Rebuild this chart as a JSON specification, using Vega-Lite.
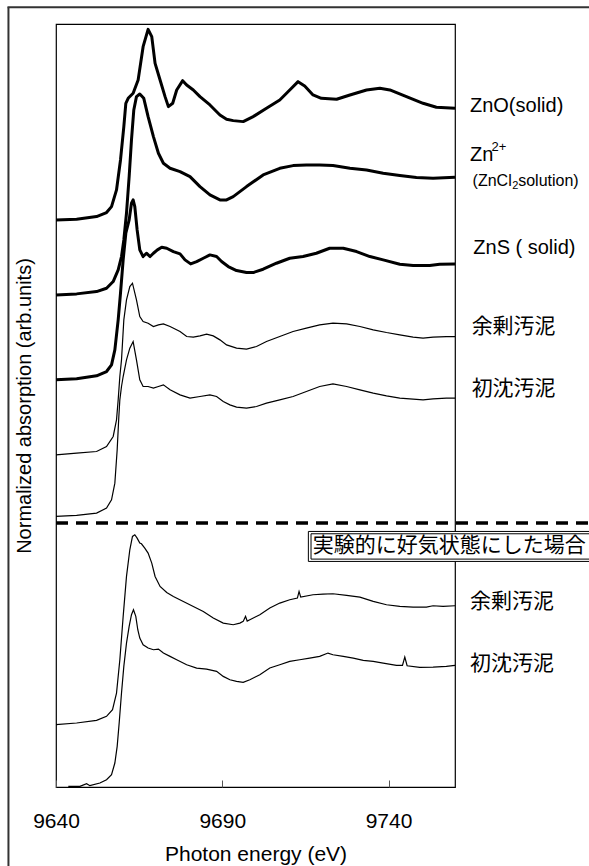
{
  "$schema": "https://vega.github.io/schema/vega-lite/v6.json",
  "width": 399,
  "height": 763,
  "autosize": "none",
  "padding": {"left": 56, "top": 24, "right": 134, "bottom": 79},
  "background": "white",
  "config": {
    "font": "Liberation Sans",
    "view": {"stroke": "black", "strokeWidth": 1.2},
    "axis": {"grid": false, "domain": false}
  },
  "datasets": {
    "spectra": [
      {"sample": "ZnO", "energy": 9640.0, "absorption": 17.02},
      {"sample": "ZnO", "energy": 9646.2, "absorption": 17.04},
      {"sample": "ZnO", "energy": 9652.2, "absorption": 17.12},
      {"sample": "ZnO", "energy": 9655.2, "absorption": 17.24},
      {"sample": "ZnO", "energy": 9656.7, "absorption": 17.42},
      {"sample": "ZnO", "energy": 9658.2, "absorption": 17.92},
      {"sample": "ZnO", "energy": 9659.4, "absorption": 18.82},
      {"sample": "ZnO", "energy": 9660.4, "absorption": 19.82},
      {"sample": "ZnO", "energy": 9661.0, "absorption": 20.52},
      {"sample": "ZnO", "energy": 9661.7, "absorption": 20.67},
      {"sample": "ZnO", "energy": 9663.2, "absorption": 20.82},
      {"sample": "ZnO", "energy": 9664.7, "absorption": 21.22},
      {"sample": "ZnO", "energy": 9666.2, "absorption": 22.22},
      {"sample": "ZnO", "energy": 9667.7, "absorption": 22.74},
      {"sample": "ZnO", "energy": 9668.8, "absorption": 22.52},
      {"sample": "ZnO", "energy": 9669.8, "absorption": 21.72},
      {"sample": "ZnO", "energy": 9671.3, "absorption": 21.22},
      {"sample": "ZnO", "energy": 9672.8, "absorption": 20.72},
      {"sample": "ZnO", "energy": 9673.8, "absorption": 20.42},
      {"sample": "ZnO", "energy": 9675.1, "absorption": 20.52},
      {"sample": "ZnO", "energy": 9676.3, "absorption": 20.92},
      {"sample": "ZnO", "energy": 9678.1, "absorption": 21.20},
      {"sample": "ZnO", "energy": 9679.3, "absorption": 21.07},
      {"sample": "ZnO", "energy": 9681.3, "absorption": 20.92},
      {"sample": "ZnO", "energy": 9683.3, "absorption": 20.72},
      {"sample": "ZnO", "energy": 9686.3, "absorption": 20.47},
      {"sample": "ZnO", "energy": 9689.3, "absorption": 20.17},
      {"sample": "ZnO", "energy": 9691.3, "absorption": 20.04},
      {"sample": "ZnO", "energy": 9693.3, "absorption": 20.00},
      {"sample": "ZnO", "energy": 9696.3, "absorption": 19.97},
      {"sample": "ZnO", "energy": 9699.3, "absorption": 20.12},
      {"sample": "ZnO", "energy": 9703.3, "absorption": 20.37},
      {"sample": "ZnO", "energy": 9707.3, "absorption": 20.62},
      {"sample": "ZnO", "energy": 9710.3, "absorption": 20.92},
      {"sample": "ZnO", "energy": 9712.8, "absorption": 21.17},
      {"sample": "ZnO", "energy": 9714.8, "absorption": 21.04},
      {"sample": "ZnO", "energy": 9717.3, "absorption": 20.77},
      {"sample": "ZnO", "energy": 9719.8, "absorption": 20.67},
      {"sample": "ZnO", "energy": 9724.4, "absorption": 20.64},
      {"sample": "ZnO", "energy": 9728.4, "absorption": 20.77},
      {"sample": "ZnO", "energy": 9733.4, "absorption": 20.92},
      {"sample": "ZnO", "energy": 9737.4, "absorption": 20.97},
      {"sample": "ZnO", "energy": 9740.4, "absorption": 20.92},
      {"sample": "ZnO", "energy": 9745.4, "absorption": 20.72},
      {"sample": "ZnO", "energy": 9750.4, "absorption": 20.52},
      {"sample": "ZnO", "energy": 9754.4, "absorption": 20.40},
      {"sample": "ZnO", "energy": 9760.0, "absorption": 20.37},

      {"sample": "Zn2+", "energy": 9640.0, "absorption": 14.77},
      {"sample": "Zn2+", "energy": 9646.2, "absorption": 14.80},
      {"sample": "Zn2+", "energy": 9652.2, "absorption": 14.87},
      {"sample": "Zn2+", "energy": 9655.2, "absorption": 14.97},
      {"sample": "Zn2+", "energy": 9657.2, "absorption": 15.17},
      {"sample": "Zn2+", "energy": 9658.7, "absorption": 15.52},
      {"sample": "Zn2+", "energy": 9659.7, "absorption": 15.92},
      {"sample": "Zn2+", "energy": 9660.4, "absorption": 16.42},
      {"sample": "Zn2+", "energy": 9661.2, "absorption": 17.22},
      {"sample": "Zn2+", "energy": 9662.0, "absorption": 18.32},
      {"sample": "Zn2+", "energy": 9662.7, "absorption": 19.42},
      {"sample": "Zn2+", "energy": 9663.4, "absorption": 20.32},
      {"sample": "Zn2+", "energy": 9664.2, "absorption": 20.72},
      {"sample": "Zn2+", "energy": 9665.2, "absorption": 20.80},
      {"sample": "Zn2+", "energy": 9666.4, "absorption": 20.67},
      {"sample": "Zn2+", "energy": 9667.7, "absorption": 20.12},
      {"sample": "Zn2+", "energy": 9669.3, "absorption": 19.52},
      {"sample": "Zn2+", "energy": 9670.8, "absorption": 19.02},
      {"sample": "Zn2+", "energy": 9672.3, "absorption": 18.72},
      {"sample": "Zn2+", "energy": 9674.3, "absorption": 18.57},
      {"sample": "Zn2+", "energy": 9677.3, "absorption": 18.47},
      {"sample": "Zn2+", "energy": 9680.3, "absorption": 18.32},
      {"sample": "Zn2+", "energy": 9683.3, "absorption": 18.02},
      {"sample": "Zn2+", "energy": 9686.3, "absorption": 17.77},
      {"sample": "Zn2+", "energy": 9689.3, "absorption": 17.62},
      {"sample": "Zn2+", "energy": 9691.3, "absorption": 17.62},
      {"sample": "Zn2+", "energy": 9693.3, "absorption": 17.72},
      {"sample": "Zn2+", "energy": 9697.3, "absorption": 18.02},
      {"sample": "Zn2+", "energy": 9702.3, "absorption": 18.37},
      {"sample": "Zn2+", "energy": 9707.3, "absorption": 18.57},
      {"sample": "Zn2+", "energy": 9711.3, "absorption": 18.65},
      {"sample": "Zn2+", "energy": 9715.3, "absorption": 18.67},
      {"sample": "Zn2+", "energy": 9719.3, "absorption": 18.67},
      {"sample": "Zn2+", "energy": 9723.3, "absorption": 18.65},
      {"sample": "Zn2+", "energy": 9728.4, "absorption": 18.57},
      {"sample": "Zn2+", "energy": 9733.4, "absorption": 18.52},
      {"sample": "Zn2+", "energy": 9738.4, "absorption": 18.42},
      {"sample": "Zn2+", "energy": 9743.4, "absorption": 18.35},
      {"sample": "Zn2+", "energy": 9748.4, "absorption": 18.29},
      {"sample": "Zn2+", "energy": 9753.4, "absorption": 18.27},
      {"sample": "Zn2+", "energy": 9760.0, "absorption": 18.30},

      {"sample": "ZnS", "energy": 9640.0, "absorption": 12.22},
      {"sample": "ZnS", "energy": 9646.2, "absorption": 12.25},
      {"sample": "ZnS", "energy": 9652.2, "absorption": 12.34},
      {"sample": "ZnS", "energy": 9655.2, "absorption": 12.47},
      {"sample": "ZnS", "energy": 9656.7, "absorption": 12.67},
      {"sample": "ZnS", "energy": 9657.7, "absorption": 13.12},
      {"sample": "ZnS", "energy": 9658.7, "absorption": 14.02},
      {"sample": "ZnS", "energy": 9659.4, "absorption": 14.82},
      {"sample": "ZnS", "energy": 9660.2, "absorption": 15.82},
      {"sample": "ZnS", "energy": 9661.0, "absorption": 16.62},
      {"sample": "ZnS", "energy": 9662.0, "absorption": 17.02},
      {"sample": "ZnS", "energy": 9662.7, "absorption": 17.52},
      {"sample": "ZnS", "energy": 9663.2, "absorption": 17.62},
      {"sample": "ZnS", "energy": 9663.7, "absorption": 17.42},
      {"sample": "ZnS", "energy": 9664.4, "absorption": 16.72},
      {"sample": "ZnS", "energy": 9665.2, "absorption": 16.12},
      {"sample": "ZnS", "energy": 9666.2, "absorption": 15.92},
      {"sample": "ZnS", "energy": 9667.2, "absorption": 16.02},
      {"sample": "ZnS", "energy": 9668.3, "absorption": 15.92},
      {"sample": "ZnS", "energy": 9669.3, "absorption": 16.02},
      {"sample": "ZnS", "energy": 9670.5, "absorption": 16.12},
      {"sample": "ZnS", "energy": 9671.8, "absorption": 16.20},
      {"sample": "ZnS", "energy": 9673.3, "absorption": 16.17},
      {"sample": "ZnS", "energy": 9675.3, "absorption": 16.07},
      {"sample": "ZnS", "energy": 9677.3, "absorption": 16.00},
      {"sample": "ZnS", "energy": 9678.8, "absorption": 15.82},
      {"sample": "ZnS", "energy": 9680.5, "absorption": 15.70},
      {"sample": "ZnS", "energy": 9682.3, "absorption": 15.77},
      {"sample": "ZnS", "energy": 9684.3, "absorption": 15.87},
      {"sample": "ZnS", "energy": 9686.3, "absorption": 15.97},
      {"sample": "ZnS", "energy": 9688.3, "absorption": 15.92},
      {"sample": "ZnS", "energy": 9689.8, "absorption": 15.77},
      {"sample": "ZnS", "energy": 9691.8, "absorption": 15.62},
      {"sample": "ZnS", "energy": 9694.3, "absorption": 15.50},
      {"sample": "ZnS", "energy": 9697.3, "absorption": 15.44},
      {"sample": "ZnS", "energy": 9699.3, "absorption": 15.44},
      {"sample": "ZnS", "energy": 9702.3, "absorption": 15.54},
      {"sample": "ZnS", "energy": 9706.3, "absorption": 15.72},
      {"sample": "ZnS", "energy": 9710.3, "absorption": 15.87},
      {"sample": "ZnS", "energy": 9714.3, "absorption": 15.92},
      {"sample": "ZnS", "energy": 9718.3, "absorption": 16.02},
      {"sample": "ZnS", "energy": 9722.3, "absorption": 16.17},
      {"sample": "ZnS", "energy": 9726.4, "absorption": 16.17},
      {"sample": "ZnS", "energy": 9730.4, "absorption": 16.07},
      {"sample": "ZnS", "energy": 9734.4, "absorption": 15.92},
      {"sample": "ZnS", "energy": 9738.4, "absorption": 15.82},
      {"sample": "ZnS", "energy": 9743.4, "absorption": 15.69},
      {"sample": "ZnS", "energy": 9747.4, "absorption": 15.65},
      {"sample": "ZnS", "energy": 9752.4, "absorption": 15.65},
      {"sample": "ZnS", "energy": 9755.4, "absorption": 15.69},
      {"sample": "ZnS", "energy": 9760.0, "absorption": 15.70},

      {"sample": "余剰汚泥", "energy": 9640.0, "absorption": 9.97},
      {"sample": "余剰汚泥", "energy": 9646.2, "absorption": 10.02},
      {"sample": "余剰汚泥", "energy": 9652.2, "absorption": 10.07},
      {"sample": "余剰汚泥", "energy": 9655.2, "absorption": 10.22},
      {"sample": "余剰汚泥", "energy": 9657.2, "absorption": 10.52},
      {"sample": "余剰汚泥", "energy": 9658.2, "absorption": 11.02},
      {"sample": "余剰汚泥", "energy": 9658.7, "absorption": 11.62},
      {"sample": "余剰汚泥", "energy": 9659.2, "absorption": 12.32},
      {"sample": "余剰汚泥", "energy": 9659.7, "absorption": 12.82},
      {"sample": "余剰汚泥", "energy": 9660.4, "absorption": 14.02},
      {"sample": "余剰汚泥", "energy": 9661.2, "absorption": 14.62},
      {"sample": "余剰汚泥", "energy": 9662.2, "absorption": 15.02},
      {"sample": "余剰汚泥", "energy": 9663.0, "absorption": 15.12},
      {"sample": "余剰汚泥", "energy": 9664.2, "absorption": 14.62},
      {"sample": "余剰汚泥", "energy": 9665.2, "absorption": 14.12},
      {"sample": "余剰汚泥", "energy": 9666.2, "absorption": 13.97},
      {"sample": "余剰汚泥", "energy": 9667.7, "absorption": 13.92},
      {"sample": "余剰汚泥", "energy": 9669.3, "absorption": 13.82},
      {"sample": "余剰汚泥", "energy": 9670.8, "absorption": 13.87},
      {"sample": "余剰汚泥", "energy": 9672.3, "absorption": 13.90},
      {"sample": "余剰汚泥", "energy": 9674.3, "absorption": 13.82},
      {"sample": "余剰汚泥", "energy": 9677.3, "absorption": 13.67},
      {"sample": "余剰汚泥", "energy": 9679.3, "absorption": 13.52},
      {"sample": "余剰汚泥", "energy": 9681.3, "absorption": 13.50},
      {"sample": "余剰汚泥", "energy": 9683.3, "absorption": 13.54},
      {"sample": "余剰汚泥", "energy": 9685.3, "absorption": 13.59},
      {"sample": "余剰汚泥", "energy": 9687.3, "absorption": 13.54},
      {"sample": "余剰汚泥", "energy": 9689.3, "absorption": 13.42},
      {"sample": "余剰汚泥", "energy": 9691.3, "absorption": 13.27},
      {"sample": "余剰汚泥", "energy": 9694.3, "absorption": 13.17},
      {"sample": "余剰汚泥", "energy": 9697.3, "absorption": 13.14},
      {"sample": "余剰汚泥", "energy": 9700.3, "absorption": 13.22},
      {"sample": "余剰汚泥", "energy": 9703.3, "absorption": 13.37},
      {"sample": "余剰汚泥", "energy": 9707.3, "absorption": 13.52},
      {"sample": "余剰汚泥", "energy": 9711.3, "absorption": 13.67},
      {"sample": "余剰汚泥", "energy": 9715.3, "absorption": 13.77},
      {"sample": "余剰汚泥", "energy": 9719.3, "absorption": 13.87},
      {"sample": "余剰汚泥", "energy": 9723.3, "absorption": 13.92},
      {"sample": "余剰汚泥", "energy": 9727.4, "absorption": 13.90},
      {"sample": "余剰汚泥", "energy": 9731.4, "absorption": 13.82},
      {"sample": "余剰汚泥", "energy": 9735.4, "absorption": 13.72},
      {"sample": "余剰汚泥", "energy": 9739.4, "absorption": 13.64},
      {"sample": "余剰汚泥", "energy": 9743.4, "absorption": 13.57},
      {"sample": "余剰汚泥", "energy": 9747.4, "absorption": 13.50},
      {"sample": "余剰汚泥", "energy": 9750.4, "absorption": 13.47},
      {"sample": "余剰汚泥", "energy": 9753.4, "absorption": 13.50},
      {"sample": "余剰汚泥", "energy": 9757.4, "absorption": 13.52},
      {"sample": "余剰汚泥", "energy": 9760.0, "absorption": 13.52},

      {"sample": "初沈汚泥", "energy": 9640.0, "absorption": 8.12},
      {"sample": "初沈汚泥", "energy": 9646.2, "absorption": 8.15},
      {"sample": "初沈汚泥", "energy": 9652.2, "absorption": 8.22},
      {"sample": "初沈汚泥", "energy": 9655.2, "absorption": 8.37},
      {"sample": "初沈汚泥", "energy": 9656.7, "absorption": 8.62},
      {"sample": "初沈汚泥", "energy": 9657.7, "absorption": 9.12},
      {"sample": "初沈汚泥", "energy": 9658.4, "absorption": 10.12},
      {"sample": "初沈汚泥", "energy": 9658.9, "absorption": 11.12},
      {"sample": "初沈汚泥", "energy": 9659.2, "absorption": 11.62},
      {"sample": "初沈汚泥", "energy": 9659.7, "absorption": 12.02},
      {"sample": "初沈汚泥", "energy": 9660.2, "absorption": 12.32},
      {"sample": "初沈汚泥", "energy": 9661.2, "absorption": 12.82},
      {"sample": "初沈汚泥", "energy": 9662.2, "absorption": 13.17},
      {"sample": "初沈汚泥", "energy": 9663.2, "absorption": 13.37},
      {"sample": "初沈汚泥", "energy": 9664.2, "absorption": 12.82},
      {"sample": "初沈汚泥", "energy": 9665.2, "absorption": 12.22},
      {"sample": "初沈汚泥", "energy": 9666.2, "absorption": 12.02},
      {"sample": "初沈汚泥", "energy": 9667.7, "absorption": 12.02},
      {"sample": "初沈汚泥", "energy": 9669.3, "absorption": 11.97},
      {"sample": "初沈汚泥", "energy": 9670.8, "absorption": 12.02},
      {"sample": "初沈汚泥", "energy": 9672.3, "absorption": 12.07},
      {"sample": "初沈汚泥", "energy": 9674.3, "absorption": 11.92},
      {"sample": "初沈汚泥", "energy": 9677.3, "absorption": 11.77},
      {"sample": "初沈汚泥", "energy": 9680.3, "absorption": 11.67},
      {"sample": "初沈汚泥", "energy": 9683.3, "absorption": 11.72},
      {"sample": "初沈汚泥", "energy": 9686.3, "absorption": 11.77},
      {"sample": "初沈汚泥", "energy": 9688.3, "absorption": 11.72},
      {"sample": "初沈汚泥", "energy": 9690.3, "absorption": 11.57},
      {"sample": "初沈汚泥", "energy": 9692.3, "absorption": 11.47},
      {"sample": "初沈汚泥", "energy": 9694.3, "absorption": 11.40},
      {"sample": "初沈汚泥", "energy": 9697.3, "absorption": 11.37},
      {"sample": "初沈汚泥", "energy": 9700.3, "absorption": 11.42},
      {"sample": "初沈汚泥", "energy": 9703.3, "absorption": 11.52},
      {"sample": "初沈汚泥", "energy": 9707.3, "absorption": 11.62},
      {"sample": "初沈汚泥", "energy": 9711.3, "absorption": 11.72},
      {"sample": "初沈汚泥", "energy": 9715.3, "absorption": 11.87},
      {"sample": "初沈汚泥", "energy": 9719.3, "absorption": 12.02},
      {"sample": "初沈汚泥", "energy": 9723.3, "absorption": 12.10},
      {"sample": "初沈汚泥", "energy": 9727.4, "absorption": 12.02},
      {"sample": "初沈汚泥", "energy": 9731.4, "absorption": 11.92},
      {"sample": "初沈汚泥", "energy": 9735.4, "absorption": 11.82},
      {"sample": "初沈汚泥", "energy": 9739.4, "absorption": 11.74},
      {"sample": "初沈汚泥", "energy": 9743.4, "absorption": 11.67},
      {"sample": "初沈汚泥", "energy": 9747.4, "absorption": 11.64},
      {"sample": "初沈汚泥", "energy": 9750.4, "absorption": 11.62},
      {"sample": "初沈汚泥", "energy": 9753.4, "absorption": 11.65},
      {"sample": "初沈汚泥", "energy": 9757.4, "absorption": 11.67},
      {"sample": "初沈汚泥", "energy": 9760.0, "absorption": 11.67},

      {"sample": "余剰汚泥（好気）", "energy": 9640.0, "absorption": 1.87},
      {"sample": "余剰汚泥（好気）", "energy": 9646.2, "absorption": 1.92},
      {"sample": "余剰汚泥（好気）", "energy": 9652.2, "absorption": 2.00},
      {"sample": "余剰汚泥（好気）", "energy": 9655.2, "absorption": 2.12},
      {"sample": "余剰汚泥（好気）", "energy": 9657.0, "absorption": 2.32},
      {"sample": "余剰汚泥（好気）", "energy": 9658.2, "absorption": 2.82},
      {"sample": "余剰汚泥（好気）", "energy": 9659.2, "absorption": 3.82},
      {"sample": "余剰汚泥（好気）", "energy": 9660.2, "absorption": 5.12},
      {"sample": "余剰汚泥（好気）", "energy": 9661.2, "absorption": 6.32},
      {"sample": "余剰汚泥（好気）", "energy": 9662.2, "absorption": 7.12},
      {"sample": "余剰汚泥（好気）", "energy": 9663.0, "absorption": 7.52},
      {"sample": "余剰汚泥（好気）", "energy": 9663.7, "absorption": 7.57},
      {"sample": "余剰汚泥（好気）", "energy": 9664.4, "absorption": 7.47},
      {"sample": "余剰汚泥（好気）", "energy": 9665.2, "absorption": 7.32},
      {"sample": "余剰汚泥（好気）", "energy": 9665.7, "absorption": 7.30},
      {"sample": "余剰汚泥（好気）", "energy": 9666.7, "absorption": 7.17},
      {"sample": "余剰汚泥（好気）", "energy": 9667.7, "absorption": 7.02},
      {"sample": "余剰汚泥（好気）", "energy": 9668.8, "absorption": 6.72},
      {"sample": "余剰汚泥（好気）", "energy": 9669.8, "absorption": 6.32},
      {"sample": "余剰汚泥（好気）", "energy": 9671.3, "absorption": 6.02},
      {"sample": "余剰汚泥（好気）", "energy": 9673.3, "absorption": 5.84},
      {"sample": "余剰汚泥（好気）", "energy": 9675.3, "absorption": 5.72},
      {"sample": "余剰汚泥（好気）", "energy": 9678.3, "absorption": 5.57},
      {"sample": "余剰汚泥（好気）", "energy": 9681.3, "absorption": 5.42},
      {"sample": "余剰汚泥（好気）", "energy": 9684.3, "absorption": 5.27},
      {"sample": "余剰汚泥（好気）", "energy": 9687.3, "absorption": 5.07},
      {"sample": "余剰汚泥（好気）", "energy": 9690.3, "absorption": 4.92},
      {"sample": "余剰汚泥（好気）", "energy": 9693.3, "absorption": 4.87},
      {"sample": "余剰汚泥（好気）", "energy": 9695.3, "absorption": 4.92},
      {"sample": "余剰汚泥（好気）", "energy": 9696.3, "absorption": 4.97},
      {"sample": "余剰汚泥（好気）", "energy": 9697.0, "absorption": 5.12},
      {"sample": "余剰汚泥（好気）", "energy": 9697.5, "absorption": 4.98},
      {"sample": "余剰汚泥（好気）", "energy": 9698.3, "absorption": 5.02},
      {"sample": "余剰汚泥（好気）", "energy": 9701.3, "absorption": 5.17},
      {"sample": "余剰汚泥（好気）", "energy": 9704.3, "absorption": 5.37},
      {"sample": "余剰汚泥（好気）", "energy": 9707.3, "absorption": 5.52},
      {"sample": "余剰汚泥（好気）", "energy": 9710.3, "absorption": 5.62},
      {"sample": "余剰汚泥（好気）", "energy": 9712.6, "absorption": 5.67},
      {"sample": "余剰汚泥（好気）", "energy": 9713.1, "absorption": 5.87},
      {"sample": "余剰汚泥（好気）", "energy": 9713.6, "absorption": 5.70},
      {"sample": "余剰汚泥（好気）", "energy": 9717.3, "absorption": 5.77},
      {"sample": "余剰汚泥（好気）", "energy": 9720.3, "absorption": 5.79},
      {"sample": "余剰汚泥（好気）", "energy": 9723.3, "absorption": 5.80},
      {"sample": "余剰汚泥（好気）", "energy": 9727.4, "absorption": 5.75},
      {"sample": "余剰汚泥（好気）", "energy": 9731.4, "absorption": 5.70},
      {"sample": "余剰汚泥（好気）", "energy": 9735.4, "absorption": 5.57},
      {"sample": "余剰汚泥（好気）", "energy": 9739.4, "absorption": 5.47},
      {"sample": "余剰汚泥（好気）", "energy": 9743.4, "absorption": 5.42},
      {"sample": "余剰汚泥（好気）", "energy": 9747.4, "absorption": 5.40},
      {"sample": "余剰汚泥（好気）", "energy": 9751.4, "absorption": 5.40},
      {"sample": "余剰汚泥（好気）", "energy": 9753.4, "absorption": 5.44},
      {"sample": "余剰汚泥（好気）", "energy": 9756.4, "absorption": 5.42},
      {"sample": "余剰汚泥（好気）", "energy": 9760.0, "absorption": 5.44},

      {"sample": "初沈汚泥（好気）", "energy": 9643.7, "absorption": 0.02},
      {"sample": "初沈汚泥（好気）", "energy": 9647.2, "absorption": 0.02},
      {"sample": "初沈汚泥（好気）", "energy": 9649.2, "absorption": 0.10},
      {"sample": "初沈汚泥（好気）", "energy": 9650.2, "absorption": 0.04},
      {"sample": "初沈汚泥（好気）", "energy": 9653.2, "absorption": 0.12},
      {"sample": "初沈汚泥（好気）", "energy": 9655.2, "absorption": 0.22},
      {"sample": "初沈汚泥（好気）", "energy": 9656.7, "absorption": 0.37},
      {"sample": "初沈汚泥（好気）", "energy": 9657.7, "absorption": 0.72},
      {"sample": "初沈汚泥（好気）", "energy": 9658.4, "absorption": 1.22},
      {"sample": "初沈汚泥（好気）", "energy": 9659.0, "absorption": 1.92},
      {"sample": "初沈汚泥（好気）", "energy": 9659.7, "absorption": 2.82},
      {"sample": "初沈汚泥（好気）", "energy": 9660.4, "absorption": 3.62},
      {"sample": "初沈汚泥（好気）", "energy": 9661.2, "absorption": 4.32},
      {"sample": "初沈汚泥（好気）", "energy": 9662.0, "absorption": 4.82},
      {"sample": "初沈汚泥（好気）", "energy": 9662.7, "absorption": 5.17},
      {"sample": "初沈汚泥（好気）", "energy": 9663.3, "absorption": 5.32},
      {"sample": "初沈汚泥（好気）", "energy": 9664.0, "absorption": 5.12},
      {"sample": "初沈汚泥（好気）", "energy": 9664.6, "absorption": 4.72},
      {"sample": "初沈汚泥（好気）", "energy": 9665.2, "absorption": 4.47},
      {"sample": "初沈汚泥（好気）", "energy": 9666.2, "absorption": 4.27},
      {"sample": "初沈汚泥（好気）", "energy": 9667.7, "absorption": 4.17},
      {"sample": "初沈汚泥（好気）", "energy": 9669.3, "absorption": 4.12},
      {"sample": "初沈汚泥（好気）", "energy": 9670.8, "absorption": 4.14},
      {"sample": "初沈汚泥（好気）", "energy": 9672.3, "absorption": 4.02},
      {"sample": "初沈汚泥（好気）", "energy": 9674.3, "absorption": 3.92},
      {"sample": "初沈汚泥（好気）", "energy": 9676.3, "absorption": 3.82},
      {"sample": "初沈汚泥（好気）", "energy": 9679.3, "absorption": 3.67},
      {"sample": "初沈汚泥（好気）", "energy": 9682.3, "absorption": 3.57},
      {"sample": "初沈汚泥（好気）", "energy": 9685.3, "absorption": 3.54},
      {"sample": "初沈汚泥（好気）", "energy": 9688.3, "absorption": 3.47},
      {"sample": "初沈汚泥（好気）", "energy": 9690.3, "absorption": 3.32},
      {"sample": "初沈汚泥（好気）", "energy": 9692.3, "absorption": 3.22},
      {"sample": "初沈汚泥（好気）", "energy": 9694.3, "absorption": 3.17},
      {"sample": "初沈汚泥（好気）", "energy": 9696.3, "absorption": 3.14},
      {"sample": "初沈汚泥（好気）", "energy": 9698.3, "absorption": 3.22},
      {"sample": "初沈汚泥（好気）", "energy": 9701.3, "absorption": 3.37},
      {"sample": "初沈汚泥（好気）", "energy": 9704.3, "absorption": 3.57},
      {"sample": "初沈汚泥（好気）", "energy": 9707.3, "absorption": 3.67},
      {"sample": "初沈汚泥（好気）", "energy": 9710.3, "absorption": 3.77},
      {"sample": "初沈汚泥（好気）", "energy": 9713.3, "absorption": 3.82},
      {"sample": "初沈汚泥（好気）", "energy": 9716.3, "absorption": 3.87},
      {"sample": "初沈汚泥（好気）", "energy": 9719.3, "absorption": 3.92},
      {"sample": "初沈汚泥（好気）", "energy": 9721.8, "absorption": 4.02},
      {"sample": "初沈汚泥（好気）", "energy": 9723.3, "absorption": 3.97},
      {"sample": "初沈汚泥（好気）", "energy": 9726.4, "absorption": 3.92},
      {"sample": "初沈汚泥（好気）", "energy": 9729.4, "absorption": 3.87},
      {"sample": "初沈汚泥（好気）", "energy": 9732.4, "absorption": 3.80},
      {"sample": "初沈汚泥（好気）", "energy": 9735.4, "absorption": 3.77},
      {"sample": "初沈汚泥（好気）", "energy": 9738.4, "absorption": 3.72},
      {"sample": "初沈汚泥（好気）", "energy": 9742.4, "absorption": 3.65},
      {"sample": "初沈汚泥（好気）", "energy": 9744.2, "absorption": 3.65},
      {"sample": "初沈汚泥（好気）", "energy": 9744.9, "absorption": 3.90},
      {"sample": "初沈汚泥（好気）", "energy": 9745.6, "absorption": 3.64},
      {"sample": "初沈汚泥（好気）", "energy": 9749.4, "absorption": 3.59},
      {"sample": "初沈汚泥（好気）", "energy": 9753.4, "absorption": 3.60},
      {"sample": "初沈汚泥（好気）", "energy": 9757.4, "absorption": 3.62},
      {"sample": "初沈汚泥（好気）", "energy": 9760.0, "absorption": 3.65}
    ]
  },
  "layer": [
    {
      "data": {"name": "spectra"},
      "transform": [{"filter": {"field": "sample", "oneOf": ["ZnO", "Zn2+", "ZnS"]}}],
      "mark": {"type": "line", "color": "black", "strokeWidth": 3, "strokeJoin": "round"},
      "encoding": {
        "x": {
          "field": "energy",
          "type": "quantitative",
          "scale": {"domain": [9640, 9760], "nice": false, "zero": false},
          "axis": {
            "values": [9640, 9690, 9740],
            "format": "d",
            "title": "Photon energy (eV)",
            "titleFontSize": 21,
            "titleFontWeight": "normal",
            "titleColor": "black",
            "titlePadding": 12,
            "labelFontSize": 21,
            "labelColor": "black",
            "labelPadding": 30,
            "labelFlush": false,
            "tickSize": -7,
            "tickColor": "#555555",
            "tickWidth": 1
          }
        },
        "y": {
          "field": "absorption",
          "type": "quantitative",
          "scale": {"domain": [0, 22.9], "nice": false, "zero": false},
          "axis": {
            "labels": false,
            "ticks": false,
            "title": "Normalized absorption (arb.units)",
            "titleFontSize": 20,
            "titleFontWeight": "normal",
            "titleColor": "black",
            "titlePadding": 22
          }
        },
        "detail": {"field": "sample"}
      }
    },
    {
      "data": {"name": "spectra"},
      "transform": [{"filter": {"not": {"field": "sample", "oneOf": ["ZnO", "Zn2+", "ZnS"]}}}],
      "mark": {"type": "line", "color": "black", "strokeWidth": 1.2},
      "encoding": {
        "x": {"field": "energy", "type": "quantitative"},
        "y": {"field": "absorption", "type": "quantitative"},
        "detail": {"field": "sample"}
      }
    },
    {
      "data": {"values": [{}]},
      "layer": [
        {
          "mark": {"type": "rule", "color": "#333333", "strokeWidth": 2},
          "encoding": {
            "x": {"datum": 9625.7, "type": "quantitative"},
            "y": {"datum": 23.4, "type": "quantitative"},
            "y2": {"datum": -3}
          }
        },
        {
          "mark": {"type": "rule", "color": "#333333", "strokeWidth": 2},
          "encoding": {
            "x": {"datum": 9625.4, "type": "quantitative"},
            "x2": {"datum": 9810},
            "y": {"datum": 23.4, "type": "quantitative"}
          }
        },
        {
          "mark": {"type": "rule", "color": "black", "strokeWidth": 3.5, "strokeDash": [12, 8]},
          "encoding": {
            "x": {"datum": 9640, "type": "quantitative"},
            "x2": {"datum": 9810},
            "y": {"datum": 7.92, "type": "quantitative"}
          }
        },
        {
          "mark": {"type": "rect", "fill": "white", "stroke": "black", "strokeWidth": 1},
          "encoding": {
            "x": {"datum": 9715.9, "type": "quantitative"},
            "x2": {"datum": 9810},
            "y": {"datum": 7.67, "type": "quantitative"},
            "y2": {"datum": 6.77}
          }
        },
        {
          "mark": {"type": "rect", "fill": "transparent", "stroke": "black", "strokeWidth": 1},
          "encoding": {
            "x": {"datum": 9716.7, "type": "quantitative"},
            "x2": {"datum": 9810},
            "y": {"datum": 7.6, "type": "quantitative"},
            "y2": {"datum": 6.84}
          }
        },
        {
          "mark": {"type": "text", "align": "left", "baseline": "middle", "font": "Noto Sans CJK JP", "fontSize": 21, "color": "black"},
          "encoding": {
            "x": {"datum": 9717.2, "type": "quantitative"},
            "y": {"datum": 7.22, "type": "quantitative"},
            "text": {"value": "実験的に好気状態にした場合"}
          }
        },
        {
          "mark": {"type": "text", "align": "left", "baseline": "middle", "fontSize": 20, "color": "black"},
          "encoding": {
            "x": {"datum": 9764.5, "type": "quantitative"},
            "y": {"datum": 20.44, "type": "quantitative"},
            "text": {"value": "ZnO(solid)"}
          }
        },
        {
          "mark": {"type": "text", "align": "left", "baseline": "middle", "fontSize": 20, "color": "black"},
          "encoding": {
            "x": {"datum": 9764.5, "type": "quantitative"},
            "y": {"datum": 18.97, "type": "quantitative"},
            "text": {"value": "Zn"}
          }
        },
        {
          "mark": {"type": "text", "align": "left", "baseline": "middle", "fontSize": 13, "color": "black"},
          "encoding": {
            "x": {"datum": 9771.0, "type": "quantitative"},
            "y": {"datum": 19.21, "type": "quantitative"},
            "text": {"value": "2+"}
          }
        },
        {
          "mark": {"type": "text", "align": "left", "baseline": "middle", "fontSize": 16, "color": "black"},
          "encoding": {
            "x": {"datum": 9765.3, "type": "quantitative"},
            "y": {"datum": 18.19, "type": "quantitative"},
            "text": {"value": "(ZnCl"}
          }
        },
        {
          "mark": {"type": "text", "align": "left", "baseline": "middle", "fontSize": 11, "color": "black"},
          "encoding": {
            "x": {"datum": 9777.2, "type": "quantitative"},
            "y": {"datum": 18.04, "type": "quantitative"},
            "text": {"value": "2"}
          }
        },
        {
          "mark": {"type": "text", "align": "left", "baseline": "middle", "fontSize": 16, "color": "black"},
          "encoding": {
            "x": {"datum": 9779.0, "type": "quantitative"},
            "y": {"datum": 18.19, "type": "quantitative"},
            "text": {"value": "solution)"}
          }
        },
        {
          "mark": {"type": "text", "align": "left", "baseline": "middle", "fontSize": 20, "color": "black"},
          "encoding": {
            "x": {"datum": 9765.5, "type": "quantitative"},
            "y": {"datum": 16.18, "type": "quantitative"},
            "text": {"value": "ZnS ( solid)"}
          }
        },
        {
          "mark": {"type": "text", "align": "left", "baseline": "middle", "font": "Noto Sans CJK JP", "fontSize": 21, "color": "black"},
          "encoding": {
            "x": {"datum": 9765.0, "type": "quantitative"},
            "y": {"datum": 13.81, "type": "quantitative"},
            "text": {"value": "余剰汚泥"}
          }
        },
        {
          "mark": {"type": "text", "align": "left", "baseline": "middle", "font": "Noto Sans CJK JP", "fontSize": 21, "color": "black"},
          "encoding": {
            "x": {"datum": 9765.0, "type": "quantitative"},
            "y": {"datum": 11.95, "type": "quantitative"},
            "text": {"value": "初沈汚泥"}
          }
        },
        {
          "mark": {"type": "text", "align": "left", "baseline": "middle", "font": "Noto Sans CJK JP", "fontSize": 21, "color": "black"},
          "encoding": {
            "x": {"datum": 9764.5, "type": "quantitative"},
            "y": {"datum": 5.56, "type": "quantitative"},
            "text": {"value": "余剰汚泥"}
          }
        },
        {
          "mark": {"type": "text", "align": "left", "baseline": "middle", "font": "Noto Sans CJK JP", "fontSize": 21, "color": "black"},
          "encoding": {
            "x": {"datum": 9764.5, "type": "quantitative"},
            "y": {"datum": 3.7, "type": "quantitative"},
            "text": {"value": "初沈汚泥"}
          }
        }
      ]
    }
  ]
}
